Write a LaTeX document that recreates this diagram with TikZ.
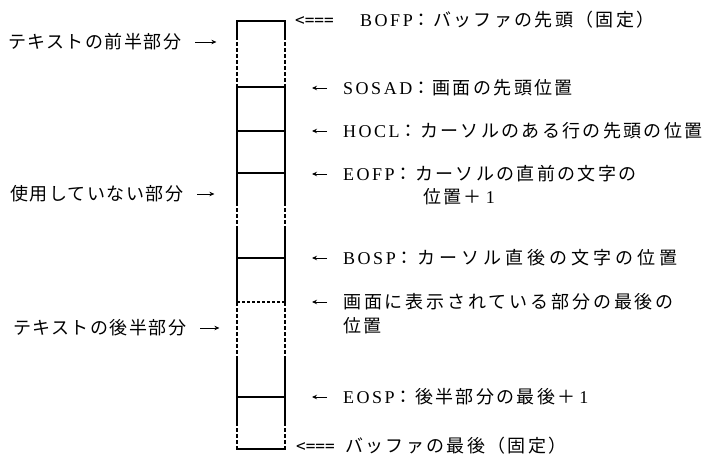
\documentclass[tikz,border=0pt]{standalone}
\usepackage{fontspec}
\usetikzlibrary{arrows.meta}
\setmainfont{Liberation Serif}[LetterSpace=14]
\newfontfamily\jp{Noto Sans CJK JP}[LetterSpace=13]
\newfontfamily\jpw{Noto Sans CJK JP}[LetterSpace=22]
\newfontfamily\jpm{Noto Sans CJK JP}[LetterSpace=16]
\newfontfamily\jpl{Noto Sans CJK JP}[LetterSpace=8]
\newfontfamily\mono{DejaVu Sans Mono}
\tikzset{
  rtext/.style={anchor=west, inner sep=0pt, font=\fontsize{18}{22}\selectfont},
  ltext/.style={anchor=west, inner sep=0pt, font=\fontsize{18}{22}\selectfont\jpl},
  marker/.style={anchor=west, inner sep=0pt, font=\fontsize{16}{20}\selectfont\mono},
  ptr/.style={-{Stealth[length=5pt,width=4.5pt]}, line width=0.9pt},
  wall/.style={line width=1.3pt},
  gapwall/.style={line width=1.2pt, dash pattern=on 4pt off 2pt},
  divider/.style={line width=1.2pt},
  dotdiv/.style={line width=1.2pt, dash pattern=on 3pt off 2pt}
}
\begin{document}
\begin{tikzpicture}[x=1pt,y=-1pt]
\useasboundingbox[fill=white] (0,0) rectangle (712,460);
% buffer column
\foreach \xx in {237,285} {
  \draw[wall] (\xx,21) -- (\xx,36);
  \draw[gapwall] (\xx,36) -- (\xx,87);
  \draw[wall] (\xx,87) -- (\xx,202);
  \draw[gapwall] (\xx,202) -- (\xx,230);
  \draw[wall] (\xx,230) -- (\xx,302);
  \draw[gapwall] (\xx,302) -- (\xx,356);
  \draw[wall] (\xx,356) -- (\xx,422);
  \draw[gapwall] (\xx,422) -- (\xx,449);
}
\draw[wall] (236.4,21) -- (285.6,21);
\draw[wall] (236.4,449) -- (285.6,449);
\draw[divider] (237,87) -- (285,87);
\draw[divider] (237,131) -- (285,131);
\draw[divider] (237,173) -- (285,173);
\draw[divider] (237,258) -- (285,258);
\draw[dotdiv] (237,302) -- (285,302);
\draw[divider] (237,397) -- (285,397);
% left labels
\node[ltext] (l1) at (8,42) {テキストの前半部分};
\node[ltext] (l2) at (10,194) {使用していない部分};
\node[ltext] (l3) at (13,328) {テキストの後半部分};
\draw[ptr] ([xshift=14pt]l1.east) -- ++(21pt,0);
\draw[ptr] ([xshift=14pt]l2.east) -- ++(17pt,0);
\draw[ptr] ([xshift=14pt]l3.east) -- ++(19pt,0);
% right labels
\node[marker] (m0) at (295,21) {<===};
\node[rtext] (r0) at (360,20) {BOFP{\jp ：バッファの先頭（固定）}};
\node[rtext] (r1) at (343,88) {SOSAD{\jp ：画面の先頭位置}};
\node[rtext] (r2) at (343,131) {HOCL{\jp ：カーソルのある行の先頭の位置}};
\node[rtext] (r3) at (343,174) {EOFP{\jp ：カーソルの直前の文字の}};
\node[rtext] (r3b) at (423,197) {{\jp 位置＋}\hspace{4pt}1};
\node[rtext] (r4) at (343,258) {BOSP{\jpw ：カーソル直後の文字の位置}};
\node[rtext] (r5) at (343,302) {{\jpm 画面に表示されている部分の最後の}};
\node[rtext] (r5b) at (343,326) {{\jp 位置}};
\node[rtext] (r6) at (343,397) {EOSP{\jp ：後半部分の最後＋}\hspace{4pt}1};
\node[marker] (m7) at (296,447) {<===};
\node[rtext] (r7) at (345,446) {{\jp バッファの最後（固定）}};
\foreach \r in {r1,r2,r3,r4,r5,r6} {
  \draw[ptr] ([xshift=-16pt]\r.west) -- ++(-15pt,0);
}
\end{tikzpicture}
\end{document}
